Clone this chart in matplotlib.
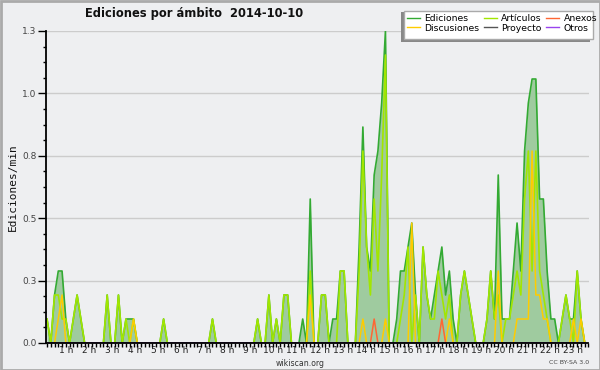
import matplotlib
matplotlib.use('Agg')
import matplotlib.pyplot as plt
from matplotlib.patches import Rectangle
import numpy as np

# edits per minute, one value per 10-minute bin (6 per hour)
ediciones = [
    0.1, 0, 0.2, 0.3, 0.3, 0.1,      # 0 h
    0, 0.1, 0.2, 0.1, 0, 0,          # 1 h
    0, 0, 0, 0, 0.2, 0,              # 2 h
    0, 0.2, 0, 0.1, 0.1, 0.1,        # 3 h
    0, 0, 0, 0, 0, 0,                # 4 h
    0, 0.1, 0, 0, 0, 0,              # 5 h
    0, 0, 0, 0, 0, 0,                # 6 h
    0, 0, 0.1, 0, 0, 0,              # 7 h
    0, 0, 0, 0, 0, 0,                # 8 h
    0, 0, 0.1, 0, 0, 0.2,            # 9 h
    0, 0.1, 0, 0.2, 0.2, 0,          # 10 h
    0, 0, 0.1, 0, 0.6, 0,            # 11 h
    0, 0.2, 0.2, 0, 0.1, 0.1,        # 12 h
    0.3, 0.3, 0, 0, 0, 0.4,          # 13 h
    0.9, 0.4, 0.3, 0.7, 0.8, 1.0,    # 14 h
    1.3, 0, 0, 0.1, 0.3, 0.3,        # 15 h
    0.4, 0.5, 0.2, 0, 0.4, 0.2,      # 16 h
    0.1, 0.2, 0.3, 0.4, 0.2, 0.3,    # 17 h
    0.1, 0, 0.2, 0.3, 0.2, 0.1,      # 18 h
    0, 0, 0, 0.1, 0.3, 0.1,          # 19 h
    0.7, 0.1, 0.1, 0.1, 0.3, 0.5,    # 20 h
    0.3, 0.8, 1.0, 1.1, 1.1, 0.6,    # 21 h
    0.6, 0.3, 0.1, 0.1, 0, 0.1,      # 22 h
    0.2, 0.1, 0.1, 0.3, 0.1, 0,      # 23 h
]
articulos = [
    0.1, 0, 0.2, 0.2, 0.1, 0.1,
    0, 0.1, 0.2, 0.1, 0, 0,
    0, 0, 0, 0, 0.2, 0,
    0, 0.2, 0, 0.1, 0, 0.1,
    0, 0, 0, 0, 0, 0,
    0, 0.1, 0, 0, 0, 0,
    0, 0, 0, 0, 0, 0,
    0, 0, 0.1, 0, 0, 0,
    0, 0, 0, 0, 0, 0,
    0, 0, 0.1, 0, 0, 0.2,
    0, 0.1, 0, 0.2, 0.2, 0,
    0, 0, 0, 0, 0.3, 0,
    0, 0.2, 0.2, 0, 0, 0,
    0.3, 0.3, 0, 0, 0, 0.3,
    0.8, 0.4, 0.2, 0.6, 0.3, 0.7,
    1.2, 0, 0, 0, 0.1, 0.2,
    0.4, 0, 0.2, 0, 0.4, 0.2,
    0.1, 0.1, 0.3, 0.2, 0.1, 0.2,
    0, 0, 0.2, 0.3, 0.2, 0.1,
    0, 0, 0, 0.1, 0.3, 0.1,
    0.2, 0, 0.1, 0.1, 0.2, 0.3,
    0.2, 0.6, 0.8, 0.3, 0.8, 0.3,
    0.2, 0.1, 0, 0, 0, 0.1,
    0.2, 0.1, 0, 0.3, 0.1, 0,
]
discusiones = [
    0, 0, 0, 0.1, 0.2, 0,
    0, 0, 0, 0, 0, 0,
    0, 0, 0, 0, 0, 0,
    0, 0, 0, 0, 0, 0.1,
    0, 0, 0, 0, 0, 0,
    0, 0, 0, 0, 0, 0,
    0, 0, 0, 0, 0, 0,
    0, 0, 0, 0, 0, 0,
    0, 0, 0, 0, 0, 0,
    0, 0, 0, 0, 0, 0,
    0, 0, 0, 0, 0, 0,
    0, 0, 0, 0, 0.2, 0,
    0, 0, 0, 0, 0, 0,
    0, 0, 0, 0, 0, 0,
    0.1, 0, 0, 0, 0, 0,
    0.1, 0, 0, 0, 0, 0,
    0, 0.5, 0, 0, 0, 0,
    0, 0, 0, 0, 0, 0.1,
    0, 0, 0, 0, 0, 0,
    0, 0, 0, 0, 0, 0,
    0.3, 0, 0, 0, 0, 0.1,
    0.1, 0.1, 0.1, 0.8, 0.2, 0.2,
    0.1, 0.1, 0, 0, 0, 0,
    0, 0, 0.1, 0, 0.1, 0,
]
anexos = [0] * 144
anexos[87] = 0.1
anexos[105] = 0.1
proyecto = [0] * 144
otros = [0] * 144

hours = list(range(1, 24))
hour_labels = [f'{h} h' for h in hours]

bg = '#eeeff1'
fig = plt.figure(figsize=(6, 3.7), dpi=100, facecolor=bg)
ax = fig.add_axes([45.7 / 600, 27 / 370, (588.5 - 45.7) / 600, 312 / 370])
ax.set_facecolor(bg)

x = np.arange(len(ediciones))
ax.fill_between(x, ediciones, 0, color='#9fcb9f', lw=0, zorder=1)
ax.plot(x, ediciones, color='#33aa33', lw=1.2, label='Ediciones', zorder=2)
ax.plot(x, articulos, color='#a2e600', lw=1.2, label='Artículos', zorder=2.1)
ax.plot(x, discusiones, color='#ffcc00', lw=1.1, label='Discusiones', zorder=2.2)
ax.plot(x, anexos, color='#ff6633', lw=1.1, label='Anexos', zorder=2.3)
ax.plot(x, proyecto, color='#555555', lw=1.1, label='Proyecto', zorder=2.3)
ax.plot(x, otros, color='#9944ee', lw=1.1, label='Otros', zorder=2.3)

ax.set_xlim(-0.35, 144)
ax.set_ylim(0, 1.3)
for s in ['top', 'right']:
    ax.spines[s].set_visible(False)
for s in ['left', 'bottom']:
    ax.spines[s].set_linewidth(1.3)
    ax.spines[s].set_zorder(5)

ax.set_yticks(np.linspace(0, 1.3, 6))
ax.set_yticks(np.linspace(0, 1.3, 21), minor=True)
ax.set_yticklabels([f'{v:.1f}' for v in np.linspace(0, 1.3, 6)])
ax.yaxis.grid(True, which='major', color='#cccccc', lw=1)
ax.set_axisbelow(True)
ax.tick_params(axis='y', which='major', length=5.5, width=1, labelsize=6.5,
               labelcolor='#444444', pad=1)
ax.tick_params(axis='y', which='minor', length=2.2, width=1)

ax.set_xticks([6.13 * h - 1.08 for h in hours])
ax.set_xticklabels(hour_labels)
ax.set_xticks(np.arange(0, 145), minor=True)
ax.tick_params(axis='x', which='major', length=0, labelsize=6.5,
               labelcolor='#222222', pad=2.5)
ax.tick_params(axis='x', which='minor', length=3, width=1)

fig.text(13 / 600, 1 - 187 / 370, 'Ediciones/min', family='DejaVu Sans Mono',
         fontsize=8, rotation=90, ha='center', va='center', color='#111111')
fig.text(85 / 600, 1 - 14 / 370, 'Ediciones por ámbito  2014-10-10',
         fontsize=8.3, fontweight='bold', ha='left', va='center', color='#111111')
fig.text(300.5 / 600, 1 - 363 / 370, 'wikiscan.org', fontsize=5.6,
         ha='center', va='center', color='#333333')
fig.text(589 / 600, 1 - 363 / 370, 'CC BY-SA 3.0', fontsize=4.5,
         ha='right', va='center', color='#444444')

# legend box with shadow
fig.patches.append(Rectangle((401 / 600, 1 - 42 / 370), 189 / 600, 30 / 370,
                             transform=fig.transFigure, facecolor='#888888',
                             edgecolor='none', zorder=10))
fig.patches.append(Rectangle((404 / 600, 1 - 38.5 / 370), 189 / 600, 27 / 370,
                             transform=fig.transFigure, facecolor='white',
                             edgecolor='#aaaaaa', lw=1, zorder=11))
handles, labels = ax.get_legend_handles_labels()
order = [0, 2, 1, 4, 3, 5]
leg = fig.legend([handles[i] for i in order], [labels[i] for i in order],
                 ncol=3, loc='upper left', bbox_to_anchor=(404 / 600, 1 - 11 / 370),
                 frameon=False, fontsize=6.7, handlelength=1.4, handletextpad=0.45,
                 columnspacing=0.5, labelspacing=0.1, borderpad=0.3,
                 borderaxespad=0)
leg.set_zorder(12)
for line in leg.get_lines():
    line.set_linewidth(1)

fig.patches.append(Rectangle((0.5 / 600, 0.5 / 370), 599 / 600, 369 / 370,
                             transform=fig.transFigure, facecolor='none',
                             edgecolor='#aaaaaa', lw=2, zorder=20))

fig.savefig('out.png', dpi=100, facecolor=bg)
